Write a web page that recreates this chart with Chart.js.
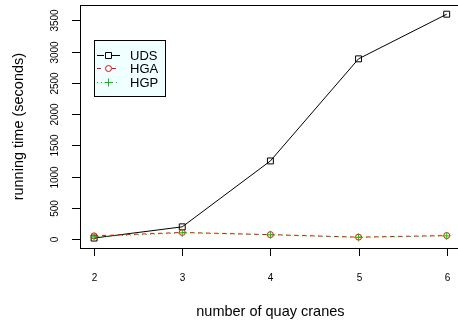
<!DOCTYPE html>
<html><head><meta charset="utf-8">
<script src="https://cdn.jsdelivr.net/npm/chart.js@4"></script>
<style>html,body{margin:0;padding:0;overflow:hidden;background:#fff;width:458px;height:327px}#wrap{position:absolute;left:0;top:0;width:466px;height:327px}</style>
</head><body><div id="wrap"><canvas id="c" width="466" height="327"></canvas></div>
<script>
const categories = [2, 3, 4, 5, 6];
const udsValues = [15, 195, 1250, 2885, 3600];
const hgaValues = [50, 105, 70, 30, 55];
const hgpValues = [35, 100, 68, 25, 50];
const yTickLabels = [0, 500, 1000, 1500, 2000, 2500, 3000, 3500];
const xTickLabels = [2, 3, 4, 5, 6];
const seriesNames = ['UDS', 'HGA', 'HGP'];

const FONT = '"Liberation Sans", Arial, sans-serif';

const rPlugin = {
  id: 'rstyle',
  afterDraw(chart) {
    const ctx = chart.ctx, a = chart.chartArea;
    const xs = chart.scales.x, ys = chart.scales.y;
    ctx.save();
    ctx.strokeStyle = '#000'; ctx.lineWidth = 1; ctx.fillStyle = '#000';
    ctx.strokeRect(Math.round(a.left) + 0.5, Math.round(a.top) + 0.5, Math.round(a.right - a.left), Math.round(a.bottom - a.top));
    ctx.font = '10px ' + FONT; ctx.textAlign = 'center'; ctx.textBaseline = 'middle';
    xTickLabels.forEach(v => {
      const px = Math.round(xs.getPixelForValue(v)) + 0.5;
      ctx.beginPath(); ctx.moveTo(px, a.bottom); ctx.lineTo(px, a.bottom + 8); ctx.stroke();
      ctx.fillText(String(v), px, a.bottom + 30);
    });
    yTickLabels.forEach(v => {
      const py = Math.round(ys.getPixelForValue(v)) + 0.5;
      ctx.beginPath(); ctx.moveTo(a.left, py); ctx.lineTo(a.left - 8, py); ctx.stroke();
      ctx.save(); ctx.translate(a.left - 25, py); ctx.rotate(-Math.PI / 2);
      ctx.fillText(String(v), 0, 0); ctx.restore();
    });
    ctx.font = '14.5px ' + FONT;
    ctx.fillText('number of quay cranes', (a.left + a.right) / 2, 312);
    ctx.save(); ctx.translate(19, (a.top + a.bottom) / 2); ctx.rotate(-Math.PI / 2);
    ctx.fillText('running time (seconds)', 0, 0); ctx.restore();
    const lx = 94.5, ly = 40.5, lw = 71, lh = 56;
    ctx.fillStyle = '#F0FFFF'; ctx.fillRect(lx, ly, lw, lh);
    ctx.strokeStyle = '#000'; ctx.strokeRect(lx, ly, lw, lh);
    const rows = [55, 68, 82];
    const styles = [
      {c: '#000', dash: [], mark: 'sq'},
      {c: '#FF0000', dash: [4, 4], mark: 'ci'},
      {c: '#00CD00', dash: [1, 3], mark: 'pl'}
    ];
    rows.forEach((y, i) => {
      const s = styles[i];
      ctx.strokeStyle = s.c; ctx.setLineDash(s.dash);
      ctx.beginPath(); ctx.moveTo(97, y + 0.5); ctx.lineTo(104, y + 0.5); ctx.moveTo(112, y + 0.5); ctx.lineTo(120, y + 0.5); ctx.stroke();
      ctx.setLineDash([]);
      ctx.beginPath();
      if (s.mark === 'sq') ctx.rect(105.5, y - 2.5, 6, 6);
      else if (s.mark === 'ci') ctx.arc(108.5, y + 0.5, 3, 0, Math.PI * 2);
      else { ctx.moveTo(108.5, y - 3.5); ctx.lineTo(108.5, y + 4.5); ctx.moveTo(104.5, y + 0.5); ctx.lineTo(112.5, y + 0.5); }
      ctx.stroke();
      ctx.fillStyle = '#000'; ctx.font = '13px ' + FONT; ctx.textAlign = 'left';
      ctx.fillText(seriesNames[i], 130, y + 1);
    });
    ctx.restore();
  }
};

const toPts = vals => categories.map((x, i) => ({x, y: vals[i]}));

new Chart(document.getElementById('c'), {
  type: 'line',
  data: {
    datasets: [
      {label: seriesNames[0], data: toPts(udsValues), borderColor: '#000', borderWidth: 1, pointStyle: 'rect', pointRadius: 4.2, pointBorderColor: '#000', pointBackgroundColor: 'rgba(0,0,0,0)', pointBorderWidth: 1, tension: 0, order: 3},
      {label: seriesNames[1], data: toPts(hgaValues), borderColor: '#FF0000', borderWidth: 1, borderDash: [4, 4], pointStyle: 'circle', pointRadius: 3, pointBorderColor: '#FF0000', pointBackgroundColor: 'rgba(0,0,0,0)', pointBorderWidth: 1, tension: 0, order: 2},
      {label: seriesNames[2], data: toPts(hgpValues), borderColor: '#00CD00', borderWidth: 1, borderDash: [1, 3], pointStyle: 'cross', pointRadius: 4, pointBorderColor: '#00CD00', pointBorderWidth: 1, tension: 0, order: 1}
    ]
  },
  options: {
    responsive: false, animation: false, events: [],
    layout: {padding: {left: 80, top: 5, right: 2, bottom: 79}},
    plugins: {legend: {display: false}, tooltip: {enabled: false}},
    scales: {
      x: {type: 'linear', min: 1.84, max: 6.16, display: false},
      y: {type: 'linear', min: -144, max: 3744, display: false}
    }
  },
  plugins: [rPlugin]
});
</script></body></html>
